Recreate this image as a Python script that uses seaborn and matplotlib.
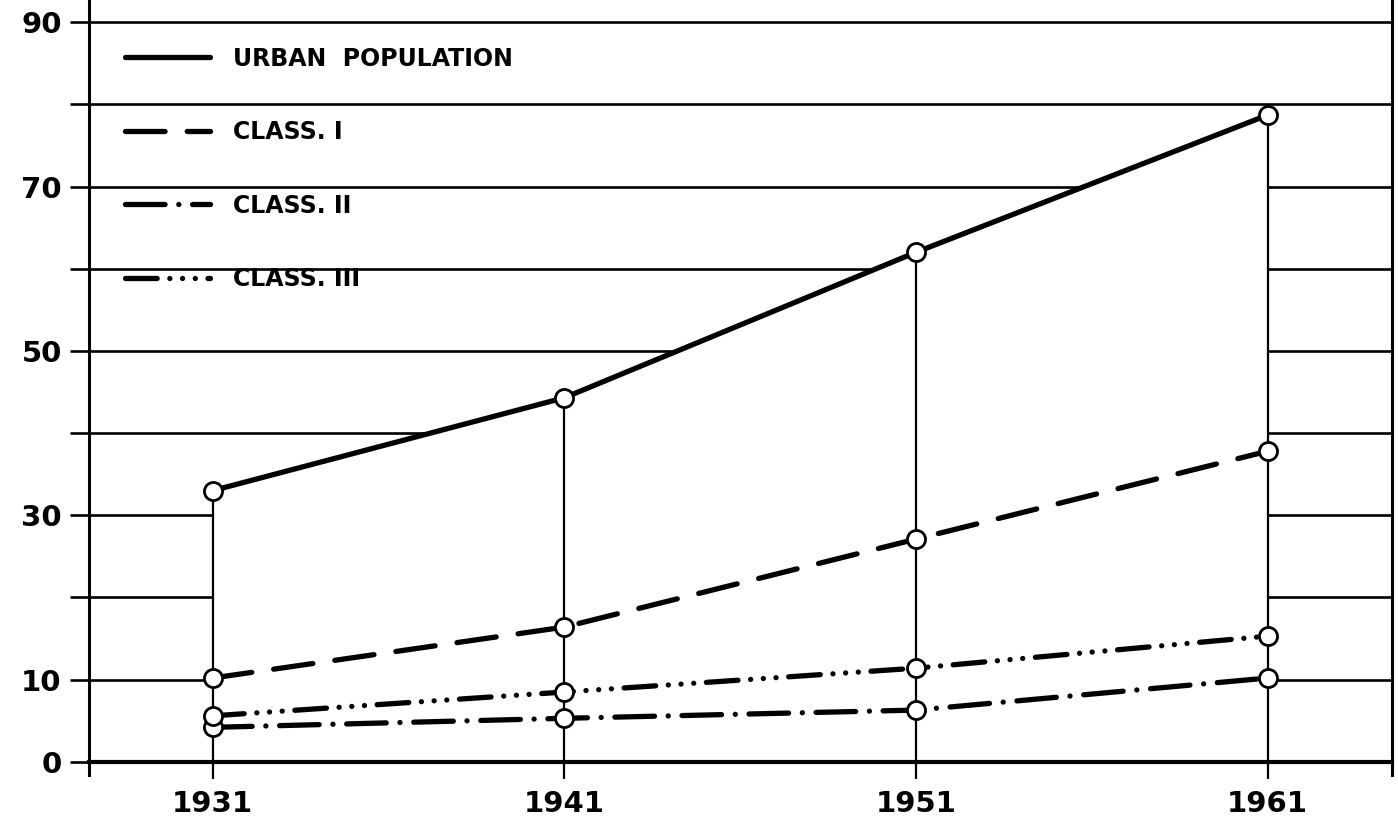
import matplotlib
matplotlib.use("Agg")
import matplotlib.pyplot as plt
import seaborn as sns
import pandas as pd

years = [1931, 1941, 1951, 1961]
urban = [33.0, 44.3, 62.0, 78.7]
class1 = [10.2, 16.4, 27.1, 37.8]
class2 = [4.2, 5.3, 6.3, 10.2]
class3 = [5.6, 8.5, 11.4, 15.3]
series_labels = ["URBAN  POPULATION", "CLASS. I", "CLASS. II", "CLASS. III"]
ytick_values = [0, 10, 20, 30, 40, 50, 60, 70, 80, 90]
ytick_labels = ["0", "10", "", "30", "", "50", "", "70", "", "90"]
xtick_labels = ["1931", "1941", "1951", "1961"]

sns.set_theme(style="white")
plt.rcParams["font.family"] = ["DejaVu Sans"]
plt.rcParams["font.weight"] = "bold"
plt.rcParams["text.color"] = "black"

df = pd.DataFrame({"year": years, "urban": urban, "c1": class1, "c2": class2, "c3": class3})

fig = plt.figure(figsize=(13.98, 8.21), dpi=100)
ax = fig.add_axes([0.064, 0.056, 0.932, 0.944])

lw = 3.8
styles = {
    "urban": dict(linestyle="-", lw=3.8),
    "c1": dict(linestyle=(0, (7.5, 4.2)), lw=lw),
    "c2": dict(linestyle=(0, (7.5, 2.6, 0.01, 2.6)), lw=lw),
    "c3": dict(linestyle=(0, (6.0, 2.4, 0.01, 2.4, 0.01, 2.4, 0.01, 2.4)), lw=lw),
}

ax.set_axisbelow(True)
ax.yaxis.grid(True, color="black", lw=1.9)
ax.xaxis.grid(False)

ax.fill_between(df["year"], 0, df["urban"], color="white", zorder=1, lw=0)
ax.vlines(df["year"], 0, df["urban"], color="black", lw=1.6, zorder=2)

for col, lab in zip(["urban", "c1", "c2", "c3"], series_labels):
    st = styles[col]
    sns.lineplot(data=df, x="year", y=col, ax=ax, color="black", lw=st["lw"],
                 linestyle=st["linestyle"], dash_capstyle="round",
                 solid_capstyle="round", label=lab, zorder=3)
    sns.scatterplot(data=df, x="year", y=col, ax=ax, s=170, facecolor="white",
                    edgecolor="black", linewidth=2.0, zorder=5, legend=False)

ax.set_xlim(1927.5, 1964.55)
ax.set_ylim(-1.6, 92.7)
ax.set_yticks(ytick_values)
ax.set_yticklabels(ytick_labels)
ax.set_xticks(years)
ax.set_xticklabels(xtick_labels)
ax.set_xlabel("")
ax.set_ylabel("")

for s in ["left", "right", "bottom"]:
    ax.spines[s].set_visible(True)
    ax.spines[s].set_color("black")
ax.spines["left"].set_linewidth(2.2)
ax.spines["right"].set_linewidth(2.2)
ax.spines["bottom"].set_linewidth(3.0)
ax.spines["bottom"].set_position(("data", 0))
ax.spines["top"].set_visible(False)

ax.tick_params(axis="y", which="major", direction="out", length=14, width=1.9,
               color="black", pad=6, labelsize=21, left=True, labelcolor="black")
ax.tick_params(axis="x", which="major", direction="out", length=12, width=1.6,
               color="black", pad=8, labelsize=21, bottom=True, labelcolor="black")
for t in ax.get_xticklabels() + ax.get_yticklabels():
    t.set_fontweight("bold")

leg = ax.legend(loc="upper left", bbox_to_anchor=(0.027, 0.94), frameon=False,
                fontsize=17, handlelength=3.6, handletextpad=1.0,
                labelspacing=2.1, borderpad=0, borderaxespad=0)
for t in leg.get_texts():
    t.set_fontweight("bold")
    t.set_color("black")

fig.savefig("out.png", dpi=100, facecolor="white")
